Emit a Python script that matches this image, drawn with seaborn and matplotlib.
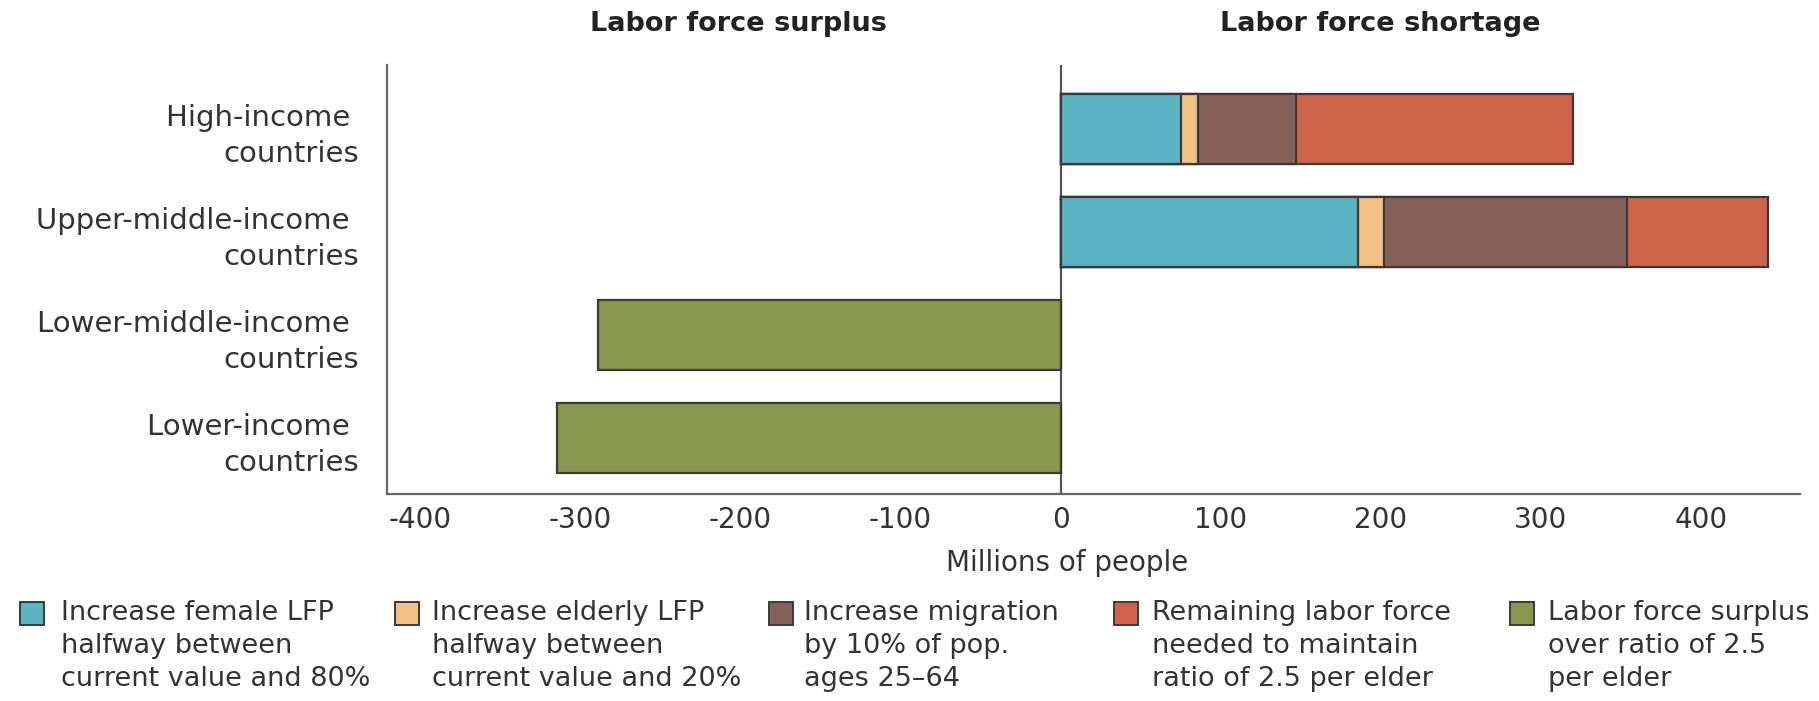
import matplotlib
matplotlib.use("Agg")
import matplotlib.pyplot as plt
import matplotlib.patches as mpatches
import numpy as np
import pandas as pd
import seaborn as sns

# Income groups (top to bottom)
categories = ["High-income \ncountries", "Upper-middle-income \ncountries",
              "Lower-middle-income \ncountries", "Lower-income \ncountries"]

# Millions of people, by component
female_lfp = [75, 186, np.nan, np.nan]
elderly_lfp = [11, 16, np.nan, np.nan]
migration = [61, 152, np.nan, np.nan]
remaining = [173, 88, np.nan, np.nan]
surplus = [np.nan, np.nan, -289, -315]

series_labels = [
    "Increase female LFP\nhalfway between\ncurrent value and 80%",
    "Increase elderly LFP\nhalfway between\ncurrent value and 20%",
    "Increase migration\nby 10% of pop.\nages 25\u201364",
    "Remaining labor force\nneeded to maintain\nratio of 2.5 per elder",
    "Labor force surplus\nover ratio of 2.5\nper elder",
]
series_colors = ["#5BB4C1", "#F2C185", "#846058", "#CE644A", "#88964E"]

xticks = [-400, -300, -200, -100, 0, 100, 200, 300, 400]

sns.set_theme(style="white")
plt.rcParams["font.family"] = ["DejaVu Sans"]
text_color = "#333333"
edge_color = "#3a3a3a"
W, H = 1819, 701

fig = plt.figure(figsize=(W / 100, H / 100), dpi=100)
ax = fig.add_axes([387 / W, 1 - 494 / H, (1800 - 387) / W, (494 - 65) / H])

# Stacked shortage components: draw cumulative totals from longest to shortest
stack = pd.DataFrame({
    "category": categories,
    "female": female_lfp,
    "elderly": elderly_lfp,
    "migration": migration,
    "remaining": remaining,
})
cols = ["female", "elderly", "migration", "remaining"]
cum = stack[cols].cumsum(axis=1)
for col, color in zip(reversed(cols), reversed(series_colors[:4])):
    sns.barplot(x=cum[col], y=stack["category"], orient="h", color=color,
                width=0.68, errorbar=None, edgecolor=edge_color,
                linewidth=1.6, saturation=1, ax=ax)

sns.barplot(x=pd.Series(surplus), y=pd.Series(categories), orient="h",
            color=series_colors[4], width=0.68, errorbar=None,
            edgecolor=edge_color, linewidth=1.6, saturation=1, ax=ax)

ax.axvline(0, color="#555555", lw=1.6, zorder=0.5)
ax.set_xlim(-421, 462)
ax.set_ylim(3.54, -0.62)
ax.set_xticks(xticks)
ax.set_xticklabels([str(t) for t in xticks])
ax.tick_params(axis="x", length=0, pad=9, labelsize=20, labelcolor=text_color)
ax.tick_params(axis="y", length=0, pad=20, labelsize=21, labelcolor=text_color)
for lbl in ax.get_yticklabels():
    lbl.set_horizontalalignment("right")
    lbl.set_multialignment("right")
    lbl.set_linespacing(1.35)
ax.set_ylabel("")
ax.set_xlabel("Millions of people", fontsize=20, color=text_color)
ax.xaxis.set_label_coords(0.481, -0.128)

for side in ["top", "right"]:
    ax.spines[side].set_visible(False)
for side in ["left", "bottom"]:
    ax.spines[side].set_color("#666666")
    ax.spines[side].set_linewidth(1.6)

# Section headings
fig.text(738 / W, 1 - 24 / H, "Labor force surplus", ha="center", va="center",
         fontsize=19.5, fontweight="bold", color="#222222")
fig.text(1380 / W, 1 - 24 / H, "Labor force shortage", ha="center", va="center",
         fontsize=19.5, fontweight="bold", color="#222222")

# Legend row: square swatch aligned with the first line of each label
swatch_x = [20, 395, 769, 1114, 1510]
label_x = [61, 432, 804, 1152, 1548]
for sx, lx, color, label in zip(swatch_x, label_x, series_colors, series_labels):
    fig.patches.append(mpatches.Rectangle(
        (sx / W, 1 - 625 / H), 24 / W, 23 / H, transform=fig.transFigure,
        facecolor=color, edgecolor=edge_color, linewidth=1.4))
    fig.text(lx / W, 1 - 600 / H, label, ha="left", va="top", fontsize=19.5,
             color=text_color, linespacing=1.36)

fig.savefig("out.png", dpi=100)
